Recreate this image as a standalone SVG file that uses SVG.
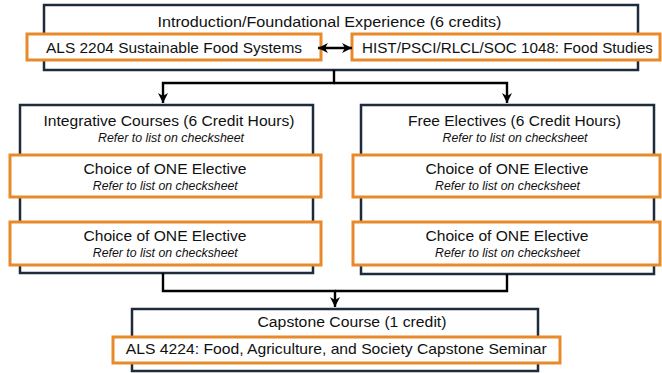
<svg xmlns="http://www.w3.org/2000/svg" width="662" height="373" viewBox="0 0 662 373">
<style>
  .dark { fill: #ffffff; stroke: #1d2b3a; stroke-width: 2.5; }
  .orange { fill: #ffffff; stroke: #e8892a; stroke-width: 3; }
  text { font-family: "Liberation Sans", Arial, sans-serif; fill: #111111; text-anchor: middle; }
  .t14 { font-size: 14.5px; }
  .t15 { font-size: 15.5px; }
  .ital { font-size: 12.3px; font-style: italic; }
  .conn { fill: none; stroke: #000000; stroke-width: 2.4; }
</style>
<defs>
  <marker id="arrow" viewBox="0 0 10 10" refX="10" refY="5" markerWidth="10" markerHeight="10" markerUnits="userSpaceOnUse" orient="auto-start-reverse">
    <path d="M0,0 L10,5 L0,10 L3,5 z" fill="#000000"/>
  </marker>
</defs>
<rect width="662" height="373" fill="#ffffff"/>

<g id="intro">
  <rect class="dark" x="44" y="5" width="594" height="65"/>
  <text class="t14" x="329.5" y="27" textLength="344" lengthAdjust="spacingAndGlyphs">Introduction/Foundational Experience (6 credits)</text>
</g>
<g id="als2204">
  <rect class="orange" x="27" y="34" width="294" height="26"/>
  <text class="t14" x="174" y="53" textLength="256" lengthAdjust="spacingAndGlyphs">ALS 2204 Sustainable Food Systems</text>
</g>
<g id="food-studies">
  <rect class="orange" x="352" y="34" width="308" height="26"/>
  <text class="t14" x="507.5" y="53" textLength="291" lengthAdjust="spacingAndGlyphs">HIST/PSCI/RLCL/SOC 1048: Food Studies</text>
</g>

<g id="integrative">
  <rect class="dark" x="20" y="105" width="293" height="168"/>
  <text class="t15" x="169" y="126" textLength="251" lengthAdjust="spacingAndGlyphs">Integrative Courses (6 Credit Hours)</text>
  <text class="ital" x="171" y="142" textLength="146" lengthAdjust="spacingAndGlyphs">Refer to list on checksheet</text>
</g>
<g id="integrative-elective-1">
  <rect class="orange" x="10" y="155" width="311" height="42"/>
  <text class="t15" x="165" y="174" textLength="163" lengthAdjust="spacingAndGlyphs">Choice of ONE Elective</text>
  <text class="ital" x="165.3" y="190" textLength="145" lengthAdjust="spacingAndGlyphs">Refer to list on checksheet</text>
</g>
<g id="integrative-elective-2">
  <rect class="orange" x="10" y="222" width="311" height="43"/>
  <text class="t15" x="165" y="241" textLength="163" lengthAdjust="spacingAndGlyphs">Choice of ONE Elective</text>
  <text class="ital" x="165.3" y="257" textLength="145" lengthAdjust="spacingAndGlyphs">Refer to list on checksheet</text>
</g>

<g id="free">
  <rect class="dark" x="361" y="105" width="293" height="169"/>
  <text class="t15" x="514.5" y="126" textLength="213" lengthAdjust="spacingAndGlyphs">Free Electives (6 Credit Hours)</text>
  <text class="ital" x="515" y="142" textLength="145" lengthAdjust="spacingAndGlyphs">Refer to list on checksheet</text>
</g>
<g id="free-elective-1">
  <rect class="orange" x="353" y="155" width="307" height="42"/>
  <text class="t15" x="507" y="174" textLength="163" lengthAdjust="spacingAndGlyphs">Choice of ONE Elective</text>
  <text class="ital" x="507.5" y="190" textLength="145" lengthAdjust="spacingAndGlyphs">Refer to list on checksheet</text>
</g>
<g id="free-elective-2">
  <rect class="orange" x="353" y="222" width="307" height="43"/>
  <text class="t15" x="507" y="241" textLength="163" lengthAdjust="spacingAndGlyphs">Choice of ONE Elective</text>
  <text class="ital" x="507.5" y="257" textLength="145" lengthAdjust="spacingAndGlyphs">Refer to list on checksheet</text>
</g>

<g id="capstone">
  <rect class="dark" x="132" y="309" width="406" height="62"/>
  <text class="t15" x="352" y="327" textLength="189" lengthAdjust="spacingAndGlyphs">Capstone Course (1 credit)</text>
</g>
<g id="als4224">
  <rect class="orange" x="113" y="337" width="447" height="26"/>
  <text class="t14" x="336.3" y="354" textLength="421" lengthAdjust="spacingAndGlyphs">ALS 4224: Food, Agriculture, and Society Capstone Seminar</text>
</g>

<g id="connectors">
  <path class="conn" d="M318,48 H352" marker-start="url(#arrow)" marker-end="url(#arrow)"/>
  <path class="conn" d="M334,70 V83 H163 V103" marker-end="url(#arrow)"/>
  <path class="conn" d="M334,83 H507 V103" marker-end="url(#arrow)"/>
  <path class="conn" d="M163,273 V291 H335 V307" marker-end="url(#arrow)"/>
  <path class="conn" d="M507,274 V291 H335"/>
</g>
</svg>
